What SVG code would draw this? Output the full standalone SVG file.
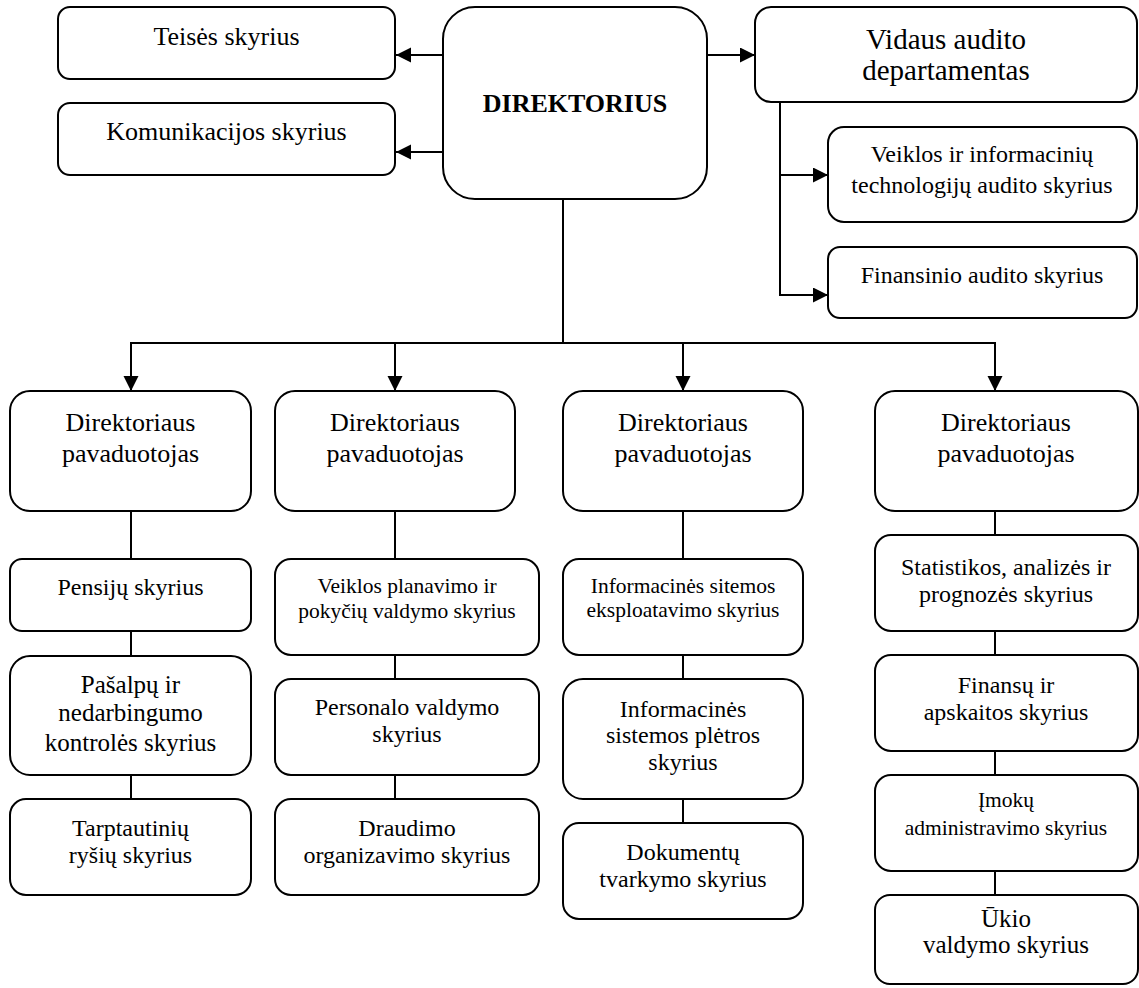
<svg xmlns="http://www.w3.org/2000/svg" width="1139" height="988" viewBox="0 0 1139 988">
  <style>
    .box { fill: #ffffff; stroke: #000000; stroke-width: 2; }
    .t { font-family: "Liberation Serif", "Times New Roman", serif; text-anchor: middle; fill: #000000; }
    .s21 { font-size: 21.5px; }
    .s24 { font-size: 24px; }
    .s25 { font-size: 25px; }
    .s26 { font-size: 26px; }
    .s29 { font-size: 29px; }
    .bold { font-weight: bold; }
    .wire { fill: none; stroke: #000000; stroke-width: 2; }
  </style>
  <defs>
    <marker id="arrow" markerUnits="userSpaceOnUse" markerWidth="16" markerHeight="16" refX="15" refY="7.5" orient="auto">
      <path d="M0,0 L15,7.5 L0,15 Z" fill="#000000"/>
    </marker>
  </defs>
  <rect width="1139" height="988" fill="#ffffff"/>

  <!-- connectors -->
  <g id="connectors">
    <!-- director to side units -->
    <line class="wire" x1="443" y1="55" x2="396" y2="55" marker-end="url(#arrow)"/>
    <line class="wire" x1="443" y1="152" x2="396" y2="152" marker-end="url(#arrow)"/>
    <line class="wire" x1="707" y1="55" x2="755" y2="55" marker-end="url(#arrow)"/>
    <!-- internal audit branches -->
    <polyline class="wire" points="780,102 780,295 828,295" marker-end="url(#arrow)"/>
    <line class="wire" x1="780" y1="175" x2="828" y2="175" marker-end="url(#arrow)"/>
    <!-- director to deputies -->
    <line class="wire" x1="563" y1="199" x2="563" y2="343"/>
    <line class="wire" x1="131" y1="343" x2="995" y2="343"/>
    <line class="wire" x1="131" y1="342" x2="131" y2="391" marker-end="url(#arrow)"/>
    <line class="wire" x1="395" y1="342" x2="395" y2="391" marker-end="url(#arrow)"/>
    <line class="wire" x1="683" y1="342" x2="683" y2="391" marker-end="url(#arrow)"/>
    <line class="wire" x1="995" y1="342" x2="995" y2="391" marker-end="url(#arrow)"/>
    <!-- column 1 -->
    <line class="wire" x1="131" y1="511" x2="131" y2="559"/>
    <line class="wire" x1="131" y1="631" x2="131" y2="656"/>
    <line class="wire" x1="131" y1="775" x2="131" y2="799"/>
    <!-- column 2 -->
    <line class="wire" x1="395" y1="511" x2="395" y2="559"/>
    <line class="wire" x1="395" y1="655" x2="395" y2="679"/>
    <line class="wire" x1="395" y1="775" x2="395" y2="799"/>
    <!-- column 3 -->
    <line class="wire" x1="683" y1="511" x2="683" y2="559"/>
    <line class="wire" x1="683" y1="655" x2="683" y2="679"/>
    <line class="wire" x1="683" y1="799" x2="683" y2="823"/>
    <!-- column 4 -->
    <line class="wire" x1="995" y1="511" x2="995" y2="535"/>
    <line class="wire" x1="995" y1="631" x2="995" y2="655"/>
    <line class="wire" x1="995" y1="751" x2="995" y2="775"/>
    <line class="wire" x1="995" y1="871" x2="995" y2="895"/>
  </g>

  <!-- top level -->
  <g id="teises">
    <rect class="box" x="58" y="7" width="337" height="72" rx="12"/>
    <text class="t s26" x="226.5" y="45">Teisės skyrius</text>
  </g>
  <g id="komunikacijos">
    <rect class="box" x="58" y="103" width="337" height="72" rx="12"/>
    <text class="t s26" x="226.5" y="140">Komunikacijos skyrius</text>
  </g>
  <g id="direktorius">
    <rect class="box" x="443" y="7" width="264" height="192" rx="32"/>
    <text class="t s26 bold" x="575" y="112">DIREKTORIUS</text>
  </g>
  <g id="vidaus-auditas">
    <rect class="box" x="755" y="7" width="382" height="95" rx="16"/>
    <text class="t s29" x="946" y="49">Vidaus audito</text>
    <text class="t s29" x="946" y="80">departamentas</text>
  </g>
  <g id="veiklos-it-auditas">
    <rect class="box" x="828" y="127" width="309" height="95" rx="16"/>
    <text class="t s24" x="982" y="162">Veiklos ir informacinių</text>
    <text class="t s24" x="982" y="193">technologijų audito skyrius</text>
  </g>
  <g id="finansinis-auditas">
    <rect class="box" x="828" y="247" width="309" height="71" rx="12"/>
    <text class="t s24" x="982" y="283">Finansinio audito skyrius</text>
  </g>

  <!-- column 1 -->
  <g id="pavaduotojas-1">
    <rect class="box" x="10" y="391" width="241" height="120" rx="20"/>
    <text class="t s26" x="130.5" y="431">Direktoriaus</text>
    <text class="t s26" x="130.5" y="462">pavaduotojas</text>
  </g>
  <g id="pensiju">
    <rect class="box" x="10" y="559" width="241" height="72" rx="12"/>
    <text class="t s24" x="130.5" y="595">Pensijų skyrius</text>
  </g>
  <g id="pasalpu">
    <rect class="box" x="10" y="656" width="241" height="119" rx="20"/>
    <text class="t s25" x="130.5" y="693">Pašalpų ir</text>
    <text class="t s25" x="130.5" y="721">nedarbingumo</text>
    <text class="t s25" x="130.5" y="751">kontrolės skyrius</text>
  </g>
  <g id="tarptautiniu">
    <rect class="box" x="10" y="799" width="241" height="96" rx="16"/>
    <text class="t s24" x="130.5" y="836">Tarptautinių</text>
    <text class="t s24" x="130.5" y="863">ryšių skyrius</text>
  </g>

  <!-- column 2 -->
  <g id="pavaduotojas-2">
    <rect class="box" x="275" y="391" width="240" height="120" rx="20"/>
    <text class="t s26" x="395" y="431">Direktoriaus</text>
    <text class="t s26" x="395" y="462">pavaduotojas</text>
  </g>
  <g id="veiklos-planavimo">
    <rect class="box" x="275" y="559" width="264" height="96" rx="16"/>
    <text class="t s21" x="407" y="593">Veiklos planavimo ir</text>
    <text class="t s21" x="407" y="618">pokyčių valdymo skyrius</text>
  </g>
  <g id="personalo">
    <rect class="box" x="275" y="679" width="264" height="96" rx="16"/>
    <text class="t s24" x="407" y="715">Personalo valdymo</text>
    <text class="t s24" x="407" y="742">skyrius</text>
  </g>
  <g id="draudimo">
    <rect class="box" x="275" y="799" width="264" height="96" rx="16"/>
    <text class="t s24" x="407" y="836">Draudimo</text>
    <text class="t s24" x="407" y="863">organizavimo skyrius</text>
  </g>

  <!-- column 3 -->
  <g id="pavaduotojas-3">
    <rect class="box" x="563" y="391" width="240" height="120" rx="20"/>
    <text class="t s26" x="683" y="431">Direktoriaus</text>
    <text class="t s26" x="683" y="462">pavaduotojas</text>
  </g>
  <g id="is-eksploatavimo">
    <rect class="box" x="563" y="559" width="240" height="96" rx="16"/>
    <text class="t s21" x="683" y="593">Informacinės sitemos</text>
    <text class="t s21" x="683" y="617">eksploatavimo skyrius</text>
  </g>
  <g id="is-pletros">
    <rect class="box" x="563" y="679" width="240" height="120" rx="20"/>
    <text class="t s24" x="683" y="717">Informacinės</text>
    <text class="t s24" x="683" y="743">sistemos plėtros</text>
    <text class="t s24" x="683" y="770">skyrius</text>
  </g>
  <g id="dokumentu">
    <rect class="box" x="563" y="823" width="240" height="96" rx="16"/>
    <text class="t s24" x="683" y="860">Dokumentų</text>
    <text class="t s24" x="683" y="887">tvarkymo skyrius</text>
  </g>

  <!-- column 4 -->
  <g id="pavaduotojas-4">
    <rect class="box" x="875" y="391" width="263" height="120" rx="20"/>
    <text class="t s26" x="1006" y="431">Direktoriaus</text>
    <text class="t s26" x="1006" y="462">pavaduotojas</text>
  </g>
  <g id="statistikos">
    <rect class="box" x="875" y="535" width="263" height="96" rx="16"/>
    <text class="t s24" x="1006" y="575">Statistikos, analizės ir</text>
    <text class="t s24" x="1006" y="602">prognozės skyrius</text>
  </g>
  <g id="finansu">
    <rect class="box" x="875" y="655" width="263" height="96" rx="16"/>
    <text class="t s24" x="1006" y="693">Finansų ir</text>
    <text class="t s24" x="1006" y="720">apskaitos skyrius</text>
  </g>
  <g id="imoku">
    <rect class="box" x="875" y="775" width="263" height="96" rx="16"/>
    <text class="t s21" x="1006" y="807">Įmokų</text>
    <text class="t s21" x="1006" y="835">administravimo skyrius</text>
  </g>
  <g id="ukio">
    <rect class="box" x="875" y="895" width="263" height="89" rx="15"/>
    <text class="t s25" x="1006" y="927">Ūkio</text>
    <text class="t s25" x="1006" y="953">valdymo skyrius</text>
  </g>
</svg>
